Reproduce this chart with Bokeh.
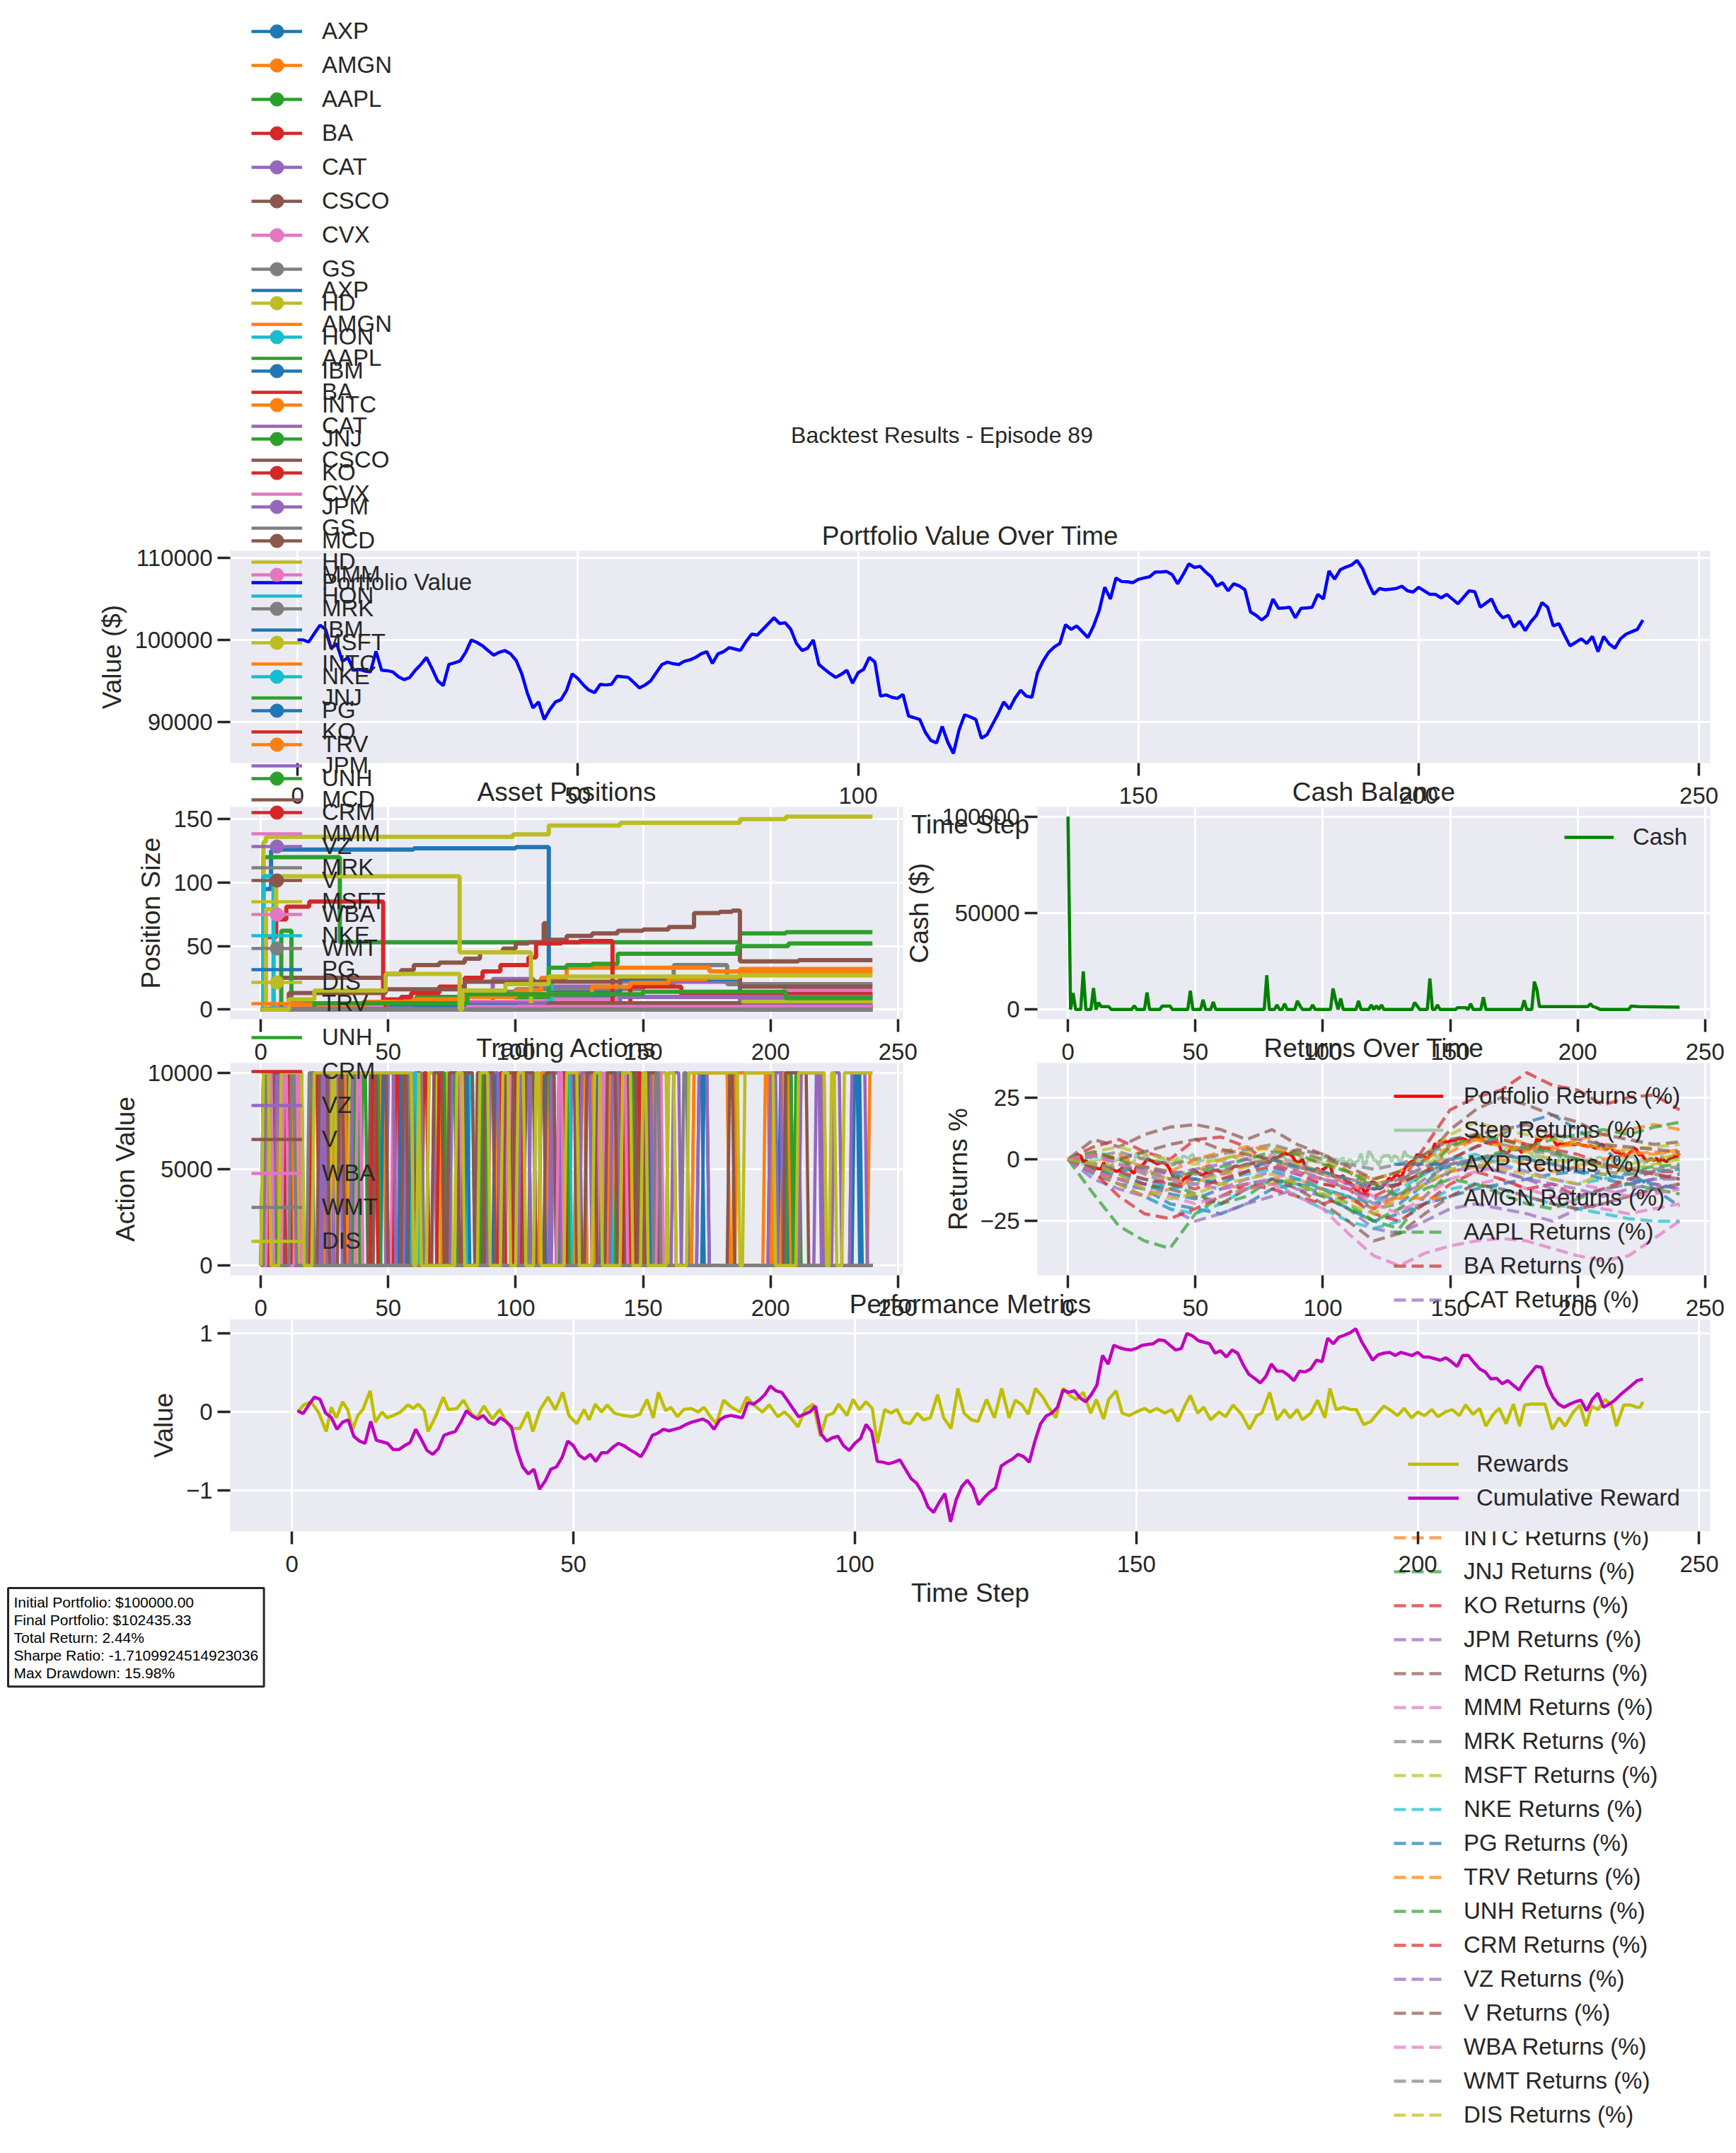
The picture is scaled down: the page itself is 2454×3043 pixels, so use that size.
from bokeh.embed import file_html
from bokeh.models import BasicTickFormatter, Column, GridBox, Label, Legend, LegendItem
from bokeh.palettes import Category10
from bokeh.plotting import figure
from bokeh.resources import INLINE

FONT = "Liberation Sans"
INK = "#262626"

# ---------------------------------------------------------------- data
tickers = ["AXP", "AMGN", "AAPL", "BA", "CAT", "CSCO", "CVX", "GS", "HD", "HON",
           "IBM", "INTC", "JNJ", "KO", "JPM", "MCD", "MMM", "MRK", "MSFT", "NKE",
           "PG", "TRV", "UNH", "CRM", "VZ", "V", "WBA", "WMT", "DIS"]

step_ticks = [0, 50, 100, 150, 200, 250]

portfolio_values = [
    100000, 100000, 99750, 100800, 101800, 101300, 98970, 99540, 97400, 97830,
    96300, 96400, 96200, 96100, 98600, 96300, 96250, 96100, 95500, 95150,
    95400, 96300, 97000, 97860, 96500, 95000, 94430, 97000, 97200, 97430,
    98500, 100000, 99700, 99290, 98700, 98140, 98500, 98700, 98300, 97500,
    95860, 93500, 91700, 92430, 90290, 91500, 92430, 92700, 93860, 95860,
    95300, 94500, 93860, 93570, 94570, 94500, 94570, 95570, 95500, 95430,
    94800, 94140, 94500, 95000, 96000, 97000, 97290, 97100, 97000, 97400,
    97570, 97860, 98300, 98570, 97140, 98300, 98570, 99060, 98900, 98710,
    99800, 100710, 100600, 101290, 102000, 102710, 102000, 102100, 101290, 99570,
    98710, 99000, 100000, 97000, 96430, 95900, 95430, 95800, 96290, 94710,
    96000, 96430, 97860, 97290, 93140, 93290, 93000, 92860, 93340, 90710,
    90500, 90290, 88710, 87710, 87430, 89430, 87500, 86140, 89000, 90860,
    90600, 90290, 88000, 88430, 89710, 91000, 92430, 91570, 92900, 93860,
    93140, 93000, 96000, 97430, 98500, 99140, 99570, 101860, 101290, 101710,
    101000, 100290, 101710, 103570, 106430, 105000, 107570, 107140, 107100, 107000,
    107400, 107570, 107710, 108290, 108300, 108370, 108000, 106860, 108000, 109290,
    108860, 109000, 108300, 107710, 106570, 107000, 106000, 106860, 106600, 106140,
    103430, 103000, 102430, 103000, 105000, 103860, 103900, 104000, 102710, 103860,
    103900, 104000, 105570, 105000, 108430, 107430, 108570, 108900, 109140, 109710,
    108700, 107000, 105570, 106290, 106140, 106200, 106290, 106570, 106000, 105860,
    106430, 106000, 105570, 105570, 105140, 105570, 105000, 104430, 105200, 106000,
    105900, 104000, 104500, 105000, 103500, 102710, 103000, 101570, 102290, 101140,
    102200, 103000, 104570, 104000, 101710, 102000, 100600, 99290, 99700, 100140,
    99570, 100430, 98570, 100430, 99500, 99000, 100140, 100710, 101000, 101290,
    102435.33]

cash_steps = [0, 1, 2, 3, 5, 6, 7, 9, 10, 11, 12, 13, 16, 17, 25, 26, 27, 30, 31, 32,
              36, 37, 40, 41, 47, 48, 49, 52, 53, 54, 56, 57, 58, 77, 78, 79, 81, 82, 83, 84,
              85, 86, 89, 90, 91, 92, 95, 96, 97, 103, 104, 105, 106, 107, 108, 113, 114, 115, 118, 119,
              120, 121, 122, 123, 124, 135, 136, 137, 138, 141, 142, 143, 144, 145, 146, 152, 153, 156, 157, 158,
              159, 162, 163, 164, 178, 179, 180, 182, 183, 184, 185, 204, 205, 206, 207, 209, 220, 221, 224, 240]
cash_values = [100000, 0, 8500, 0, 0, 19750, 0, 0, 11150, 0, 3600, 1500, 1500, 0, 0, 2000, 0, 0, 8850, 0,
               0, 1800, 1800, 0, 0, 9700, 0, 0, 5100, 0, 0, 3900, 0, 0, 17800, 0, 0, 2400, 0, 0,
               3000, 0, 0, 4500, 2000, 0, 0, 2400, 0, 0, 10900, 5000, 0, 5700, 0, 0, 4500, 0, 0, 2400,
               0, 2000, 0, 2400, 0, 0, 3600, 2000, 0, 0, 16100, 0, 0, 2400, 0, 0, 1000, 1000, 0, 3000,
               0, 0, 6400, 0, 0, 4800, 0, 0, 14500, 10300, 1500, 1500, 3000, 1500, 1200, 0, 0, 1800, 1500, 1200]

# asset positions: (step, shares) at each change of holding
axp_pos = [(0, 0), (1, 95), (4, 125), (6, 126), (60, 127), (100, 128), (113, 10), (240, 10)]
amgn_pos = [(0, 0), (31, 3), (60, 5), (113, 6), (121, 3), (240, 3)]
aapl_pos = [(0, 0), (1, 120), (31, 53), (188, 60), (206, 61), (240, 61)]
ba_pos = [(0, 0), (1, 57), (6, 71), (10, 81), (19, 85), (48, 0), (240, 0)]
cat_pos = [(0, 0), (51, 6), (91, 24), (107, 18), (141, 22), (188, 7), (240, 7)]
csco_pos = [(0, 0), (5, 25), (49, 28), (55, 31), (60, 35), (70, 37), (80, 40), (86, 45), (95, 48),
            (100, 52), (105, 53), (111, 68), (112, 55), (120, 58), (130, 60), (140, 62), (150, 63),
            (160, 65), (170, 76), (180, 77), (185, 78), (188, 38), (211, 39), (240, 39)]
cvx_pos = [(0, 0), (4, 3), (61, 6), (100, 8), (140, 10), (175, 12), (205, 15), (240, 15)]
gs_pos = [(0, 0), (56, 8), (70, 10), (80, 14), (100, 16), (150, 20), (162, 35), (183, 20), (240, 20)]
hd_pos = [(0, 0), (1, 132), (2, 136), (99, 138), (113, 145), (141, 147), (188, 150), (206, 152), (240, 152)]
hon_pos = [(0, 0), (1, 105), (5, 0), (113, 25), (114, 0), (240, 0)]
ibm_pos = [(0, 0), (51, 4), (81, 10), (113, 13), (141, 24), (188, 12), (240, 12)]
intc_pos = [(0, 0), (41, 5), (60, 8), (80, 10), (100, 15), (110, 25), (120, 33), (176, 30), (188, 32), (240, 32)]
jnj_pos = [(0, 0), (8, 62), (12, 5), (61, 10), (113, 33), (120, 35), (130, 36), (140, 44), (187, 50),
           (207, 52), (240, 52)]
ko_pos = [(0, 0), (49, 8), (55, 10), (59, 13), (70, 18), (80, 25), (87, 30), (94, 35), (105, 41), (108, 52),
          (118, 53), (125, 54), (138, 3), (145, 18), (165, 12), (240, 12)]
jpm_pos = [(0, 0), (61, 5), (141, 10), (240, 10)]
mcd_pos = [(0, 0), (11, 13), (49, 16), (80, 22), (141, 25), (188, 18), (240, 18)]
mmm_pos = [(0, 0), (151, 4), (240, 4)]
mrk_pos = [(0, 0), (240, 0)]
msft_pos = [(0, 0), (2, 79), (6, 105), (78, 45), (106, 0), (151, 4), (189, 6), (240, 6)]
nke_pos = [(0, 0), (101, 2), (240, 2)]
pg_pos = [(0, 0), (61, 3), (240, 3)]
trv_pos = [(0, 0), (13, 4), (40, 6), (60, 8), (80, 10), (100, 12), (130, 18), (145, 21), (160, 24), (175, 25),
           (187, 26), (188, 29), (240, 29)]
unh_pos = [(0, 0), (21, 5), (81, 12), (150, 14), (206, 9), (240, 9)]
crm_pos = [(0, 0), (101, 3), (240, 3)]
vz_pos = [(0, 0), (101, 3), (240, 3)]
v_pos = [(0, 0), (113, 5), (188, 0), (240, 0)]
wba_pos = [(0, 0), (81, 2), (240, 2)]
wmt_pos = [(0, 0), (240, 0)]
dis_pos = [(0, 0), (11, 8), (21, 15), (49, 28), (78, 0), (79, 15), (96, 20), (113, 26), (188, 27), (240, 27)]

# trading actions: steps at which the action flips between 0 and 10000
axp_act = [2, 4, 33, 35, 57, 59, 79, 81, 104, 106, 131, 133, 152, 154, 172, 174, 204, 207, 233, 235]
amgn_act = [3, 6, 26, 29, 47, 49, 90, 93, 128, 131, 145, 149, 198, 201]
aapl_act = [5, 7, 40, 42, 75, 77, 113, 116, 150, 152, 210, 212]
ba_act = [1, 3, 20, 23, 64, 66, 101, 103, 141, 143]
cat_act = [4, 7, 30, 32, 70, 72, 122, 125, 160, 163, 218, 221]
csco_act = [6, 9, 43, 46, 85, 88, 119, 121, 147, 149]
cvx_act = [2, 5, 52, 54, 97, 99, 135, 137]
gs_act = [8, 10, 62, 64, 108, 110, 166, 168]
hd_act = [3, 5, 35, 38, 73, 75, 126, 128, 157, 160]
hon_act = [1, 3, 14, 16, 82, 84, 139, 141]
ibm_act = [9, 11, 48, 50, 92, 94, 144, 146, 206, 208]
intc_act = [5, 8, 31, 34, 68, 71, 110, 113, 136, 139, 152, 155, 170, 184, 187, 201]
jnj_act = [7, 9, 45, 47, 87, 89, 131, 134, 207, 209]
ko_act = [11, 13, 53, 55, 94, 96, 148, 150]
jpm_act = [12, 14, 25, 28, 66, 69, 115, 118, 162, 165, 200, 203]
mcd_act = [4, 6, 36, 39, 61, 63, 99, 102, 124, 126, 151, 153]
mmm_act = [10, 12, 77, 79, 133, 135]
mrk_act = [15, 17, 58, 60, 106, 108]
msft_act = [13, 15, 28, 30, 66, 70, 146, 148]
nke_act = [2, 4, 7, 9, 60, 62, 120, 122]
pg_act = [1, 2, 55, 57, 80, 82, 110, 112, 150, 153, 174, 176, 206, 209, 232, 236]
trv_act = [3, 7, 13, 16, 50, 53, 96, 100, 110, 113, 124, 128, 137, 140, 152, 156, 170, 184, 186, 200,
           205, 208, 212, 222, 239]
unh_act = [4, 6, 37, 39, 70, 73, 118, 121, 140, 144, 146, 148, 206, 209]
crm_act = [2, 3, 10, 12, 44, 46, 70, 72, 100, 102, 117, 120, 143, 145]
vz_act = [6, 8, 24, 26, 36, 40, 50, 53, 57, 60, 75, 78, 90, 94, 102, 106, 114, 118, 126, 130, 138, 141,
          150, 154, 172, 176, 200, 205, 212, 220, 225, 228, 232, 238]
v_act = [5, 9, 23, 27, 31, 33, 45, 50, 56, 58, 68, 72, 74, 78, 80, 84, 88, 92, 96, 100, 104, 108, 112,
         116, 120, 124, 128, 132, 136, 140, 144, 148, 152, 156, 184, 186, 206, 215]
wba_act = [3, 5, 9, 11, 14, 16, 38, 40, 117, 119, 142, 144, 156, 158]
wmt_act = [2, 4, 12, 14, 19, 21, 155, 157]
dis_act = [1, 4, 8, 17, 21, 60, 62, 63, 77, 80, 86, 90, 95, 98, 101, 104, 108, 110, 120, 125, 131, 134,
           142, 146, 150, 152, 160, 163, 168, 188, 190, 202, 211, 222, 224, 226, 229]

# per-asset returns (%), read every 10 steps
return_steps = [0, 10, 20, 30, 40, 50, 60, 70, 80, 90, 100, 110, 120, 130, 140, 150, 160, 170, 180, 190,
                200, 210, 220, 230, 240]
axp_ret = [0, -6, -10, -12, -18, -20, -22, -18, -12, -10, -12, -15, -20, -18, -10, 0, 5, 10, 15, 18, 12, 5, -5, -12, -19]
amgn_ret = [0, -2, 2, -4, -8, -5, 0, 2, 0, -3, -6, -10, -12, -10, -5, 3, 8, 10, 6, 4, 8, 10, 12, 14, 12]
aapl_ret = [0, -14, -27, -33, -36, -22, -15, -12, -10, -8, -12, -18, -25, -28, -15, -5, 0, 3, 5, 8, 10, 12, 10, 13, 15]
ba_ret = [0, 5, 8, 3, 0, 8, 9, 5, -2, -5, -8, -12, -20, -10, 5, 20, 25, 28, 35, 30, 28, 22, 25, 26, 20]
cat_ret = [0, -8, -12, -15, -20, -25, -22, -18, -15, -12, -15, -20, -28, -30, -25, -20, -18, -20, -22, -25, -20, -18, -15, -12, -10]
csco_ret = [0, 8, 5, 10, 13, 14, 12, 8, 12, 6, 2, -5, -12, -10, 0, 12, 20, 25, 22, 18, 15, 10, 8, 6, 7]
cvx_ret = [0, -3, -8, -10, -12, -8, -6, -5, 2, -2, -5, -10, -15, -20, -18, -15, -10, -8, -12, -15, -18, -20, -22, -20, -18]
gs_ret = [0, -4, -2, -6, -10, -8, -5, -2, 0, -4, -8, -12, -18, -15, -8, -2, 0, 2, 5, 3, 0, -3, -5, -4, -3]
hd_ret = [0, 3, 5, 2, 0, -2, 0, 3, 5, 3, 0, -5, -8, -5, 2, 10, 15, 12, 10, 8, 6, 5, 4, 5, 6]
hon_ret = [0, -5, -10, -15, -20, -22, -18, -12, -8, -15, -20, -25, -28, -25, -18, -12, -10, -12, -15, -18, -20, -22, -24, -25, -25]
ibm_ret = [0, -4, -6, -10, -14, -16, -12, -10, -8, -10, -14, -20, -25, -22, -18, -15, -12, -10, -8, -6, -5, -8, -10, -8, -6]
intc_ret = [0, -5, -10, -15, -12, -8, -10, -12, -10, -8, -12, -16, -20, -15, -10, -5, -3, 0, -2, -5, -3, 0, 2, 3, 2]
jnj_ret = [0, -4, -8, -12, -10, -14, -18, -15, -8, -10, -15, -20, -25, -20, -12, -8, -10, -14, -18, -20, -16, -12, -10, -12, -14]
ko_ret = [0, -5, -15, -22, -24, -20, -15, -10, -12, -15, -18, -15, -22, -25, -18, -10, -5, -8, -12, -10, -15, -12, -8, -5, -5]
jpm_ret = [0, -3, -6, -10, -8, -10, -12, -8, -5, -8, -10, -12, -16, -14, -10, -5, -3, -5, -8, -12, -15, -12, -10, -8, -8]
mcd_ret = [0, -5, -8, -10, -12, -15, -18, -12, -8, -12, -18, -25, -33, -30, -22, -15, -10, -12, -15, -18, -20, -18, -15, -12, -10]
mmm_ret = [0, -5, -8, -12, -15, -18, -15, -12, -10, -15, -20, -30, -39, -43, -38, -35, -33, -32, -33, -36, -39, -41, -39, -32, -25]
mrk_ret = [0, 1, 3, 0, -2, 0, 2, 4, 6, 3, 0, -2, -4, -2, 2, 6, 8, 6, 4, 2, 0, -2, -4, -6, -8]
msft_ret = [0, -3, -2, -5, -8, -10, -6, -3, 0, -2, -5, -8, -10, -8, -3, 5, 8, 5, 3, 0, -2, -3, -2, 0, 2]
nke_ret = [0, -3, -6, -8, -12, -10, -8, -6, -4, -8, -12, -15, -18, -12, -6, 0, 2, -2, -5, -8, -10, -8, -6, -5, -4]
pg_ret = [0, -2, -5, -3, -6, -8, -10, -5, 0, -3, -5, -8, -12, -10, -5, -3, 0, 2, 0, -2, -5, -6, -8, -10, -12]
trv_ret = [0, 2, 0, -3, -5, 0, 3, 5, 4, 2, -2, -5, -8, -5, 0, 5, 8, 6, 4, 5, 6, 4, 3, 2, 4]
unh_ret = [0, 3, 0, -5, -8, -5, -3, 0, 3, 2, -2, -5, -10, -15, -5, 5, 10, 8, 5, 3, 0, -2, -4, -3, -2]
crm_ret = [0, -3, -5, -8, -10, -12, -8, -5, -3, -6, -10, -12, -15, -10, -5, 0, 5, 8, 6, 4, 2, -2, -4, -6, -8]
vz_ret = [0, 2, -2, -4, -6, -4, -2, 0, -3, -6, -8, -10, -12, -8, -3, 0, -2, -5, -8, -10, -12, -15, -12, -10, -12]
v_ret = [0, 2, 0, 3, 6, 8, 4, 2, 0, 4, 2, -3, -8, -5, 2, 8, 10, 12, 14, 10, 8, 6, 5, 4, 3]
wba_ret = [0, 2, -2, -5, -8, -10, -12, -10, -8, -5, -8, -12, -18, -22, -15, -8, -5, -3, -5, -8, -10, -12, -15, -14, -12]
wmt_ret = [0, -2, -4, -3, -5, -6, -4, -2, -1, -3, -6, -8, -10, -8, -5, -2, 0, 2, 0, -2, -4, -5, -6, -5, -4]
dis_ret = [0, -2, -6, -12, -16, -14, -10, -8, -6, -10, -14, -18, -22, -16, -10, -4, -2, -4, -6, -8, -10, -6, -4, -2, 0]

reward_steps = [
    1.0, 2.1, 3.4, 4.8, 6.1, 7.0, 7.9, 9.0, 9.9, 10.8, 11.7, 12.6, 13.9, 14.8, 16.0, 16.9, 18.0, 19.3, 20.6, 21.6,
    22.4, 23.5, 24.2, 25.6, 26.9, 27.8, 29.3, 30.5, 31.8, 32.9, 34.1, 35.6, 36.9, 37.9, 39.0, 40.5, 41.9, 42.8, 44.1, 45.5,
    46.8, 48.1, 49.2, 50.6, 51.9, 52.8, 53.9, 55.0, 56.0, 57.3, 58.9, 60.4, 61.8, 63.1, 64.2, 65.1, 66.4, 67.3, 68.5, 69.6,
    70.9, 72.2, 73.2, 74.5, 75.4, 76.7, 78.1, 79.6, 80.8, 82.3, 83.6, 84.8, 86.3, 87.5, 88.6, 89.9, 91.2, 92.6, 93.9, 95.0,
    96.2, 97.1, 98.6, 99.7, 100.8, 102.0, 103.1, 104.0, 105.3, 106.4, 107.5, 108.6, 109.8, 111.1, 112.2, 113.4, 114.7,
    115.8, 117.1, 118.3, 119.4, 120.7, 121.9, 123.4, 124.8, 126.1, 127.4, 128.5, 129.7, 130.8, 132.1, 133.4, 134.3,
    135.7, 137.0, 138.2, 139.3, 140.6, 141.9, 142.9, 144.2, 145.1, 146.4, 147.5, 148.7, 150.0, 151.5, 152.4, 153.6,
    155.1, 156.3, 157.4, 158.7, 159.6, 160.9, 162.0, 163.2, 164.7, 165.9, 167.2, 168.7, 170.1, 171.4, 172.3, 173.7,
    175.0, 176.3, 177.3, 178.6, 179.5, 181.0, 182.2, 183.5, 184.4, 185.5, 186.8, 188.2, 189.1, 190.4, 191.7, 192.7,
    194.0, 195.3, 196.4, 197.6, 198.9, 200.0, 201.2, 202.5, 203.6, 204.9, 206.1, 207.4, 208.5, 209.8, 211.0, 212.1,
    213.4, 214.5, 215.7, 217.0, 218.1, 219.0, 220.3, 221.5, 222.6, 223.9, 225.1, 226.2, 227.5, 228.8, 229.9, 230.9,
    232.0, 233.3, 234.4, 235.3, 236.6, 237.8, 238.9, 239.5, 240.0]
reward_values = [
    0.0, 0.09, 0.13, -0.015, -0.25, 0.06, -0.075, 0.13, 0.03, -0.22, -0.045, 0.03, 0.27, -0.13, 0.0, -0.075, -0.045,
    0.0, 0.09, 0.045, 0.10, 0.015, -0.25, -0.045, 0.19, 0.03, 0.045, 0.15, -0.015, -0.075, 0.075, -0.09, 0.03, -0.10,
    -0.21, -0.21, 0.0, -0.25, 0.03, 0.19, 0.03, 0.25, -0.045, -0.15, 0.03, -0.10, 0.10, 0.0, 0.09, -0.015, -0.045,
    -0.06, -0.03, 0.16, -0.075, 0.25, 0.015, 0.06, -0.06, 0.03, 0.045, 0.0, 0.06, -0.075, -0.15, 0.15, 0.06, 0.0,
    0.19, 0.075, 0.0, 0.09, -0.06, 0.0, -0.075, -0.19, 0.03, 0.10, -0.31, -0.045, -0.015, 0.10, -0.045, 0.16, 0.03,
    0.13, 0.045, -0.40, 0.03, -0.015, 0.03, -0.13, -0.15, -0.015, -0.10, -0.075, 0.22, -0.075, -0.21, 0.30, -0.015,
    -0.10, -0.12, 0.16, -0.075, 0.30, -0.075, 0.15, 0.09, -0.03, 0.30, 0.19, 0.075, -0.075, 0.30, 0.21, 0.16, 0.25,
    -0.015, 0.16, -0.09, 0.16, 0.27, -0.015, -0.045, 0.0, 0.045, 0.0, 0.045, -0.015, 0.03, -0.12, 0.09, 0.21, -0.015,
    0.06, -0.10, 0.0, -0.06, 0.09, -0.03, -0.22, -0.045, -0.015, 0.25, -0.10, 0.03, -0.075, 0.03, -0.10, -0.015,
    0.15, -0.075, 0.30, 0.03, 0.06, 0.03, 0.03, -0.16, -0.12, -0.03, 0.075, 0.015, -0.045, 0.045, -0.075, 0.0,
    -0.045, 0.03, -0.06, 0.0, 0.03, -0.045, 0.09, -0.03, 0.045, -0.18, -0.03, 0.045, -0.15, 0.10, -0.18, 0.09, 0.10,
    0.10, 0.10, -0.22, -0.075, -0.18, -0.015, 0.09, -0.18, 0.075, 0.03, 0.16, 0.09, -0.18, 0.09, 0.09, 0.06, 0.06, 0.13]

cumulative_reward = [
    0.015, -0.02, 0.09, 0.19, 0.16, -0.015, -0.07, -0.22, -0.13, -0.10,
    -0.31, -0.37, -0.40, -0.12, -0.36, -0.38, -0.40, -0.48, -0.48, -0.43,
    -0.39, -0.22, -0.35, -0.49, -0.54, -0.47, -0.30, -0.27, -0.25, -0.13,
    0.015, -0.05, -0.09, -0.045, -0.13, -0.16, -0.075, -0.12, -0.19, -0.49,
    -0.70, -0.79, -0.73, -0.985, -0.88, -0.73, -0.70, -0.58, -0.37, -0.43,
    -0.55, -0.60, -0.54, -0.63, -0.52, -0.52, -0.45, -0.40, -0.43, -0.48,
    -0.52, -0.57, -0.45, -0.30, -0.27, -0.22, -0.24, -0.22, -0.20, -0.16,
    -0.13, -0.11, -0.09, -0.13, -0.22, -0.10, -0.06, -0.045, -0.06, -0.075,
    0.12, 0.10, 0.15, 0.22, 0.33, 0.27, 0.25, 0.15, 0.045, -0.06,
    -0.03, 0.0, 0.075, -0.28, -0.37, -0.33, -0.31, -0.43, -0.49, -0.40,
    -0.34, -0.16, -0.25, -0.63, -0.64, -0.66, -0.64, -0.61, -0.73, -0.85,
    -0.91, -1.03, -1.21, -1.28, -1.15, -1.04, -1.40, -1.12, -0.95, -0.87,
    -0.97, -1.18, -1.09, -1.02, -0.97, -0.69, -0.64, -0.60, -0.54, -0.57,
    -0.64, -0.37, -0.15, -0.05, -0.015, 0.06, 0.28, 0.25, 0.27, 0.18,
    0.13, 0.22, 0.34, 0.72, 0.61, 0.85, 0.82, 0.80, 0.79, 0.81,
    0.85, 0.86, 0.87, 0.92, 0.91, 0.85, 0.79, 0.81, 1.0, 0.97,
    0.91, 0.89, 0.87, 0.75, 0.78, 0.70, 0.79, 0.75, 0.60, 0.48,
    0.43, 0.37, 0.45, 0.61, 0.52, 0.52, 0.47, 0.40, 0.52, 0.51,
    0.55, 0.66, 0.64, 0.94, 0.87, 0.955, 0.98, 1.01, 1.06, 0.90,
    0.78, 0.66, 0.73, 0.75, 0.76, 0.72, 0.76, 0.74, 0.72, 0.76,
    0.70, 0.70, 0.68, 0.66, 0.69, 0.64, 0.58, 0.72, 0.72, 0.63,
    0.55, 0.51, 0.42, 0.43, 0.36, 0.40, 0.34, 0.28, 0.40, 0.49,
    0.58, 0.57, 0.34, 0.19, 0.10, 0.06, 0.10, 0.13, 0.15, 0.015,
    0.16, 0.24, 0.06, 0.10, 0.15, 0.22, 0.28, 0.34, 0.40, 0.42]

initial_value = 100000.00
final_value = 102435.33
total_return = 2.44
sharpe_text = "-1.7109924514923036"
max_drawdown = 15.98

position_points = [axp_pos, amgn_pos, aapl_pos, ba_pos, cat_pos, csco_pos, cvx_pos, gs_pos, hd_pos, hon_pos,
                   ibm_pos, intc_pos, jnj_pos, ko_pos, jpm_pos, mcd_pos, mmm_pos, mrk_pos, msft_pos, nke_pos,
                   pg_pos, trv_pos, unh_pos, crm_pos, vz_pos, v_pos, wba_pos, wmt_pos, dis_pos]
action_flips = [axp_act, amgn_act, aapl_act, ba_act, cat_act, csco_act, cvx_act, gs_act, hd_act, hon_act,
                ibm_act, intc_act, jnj_act, ko_act, jpm_act, mcd_act, mmm_act, mrk_act, msft_act, nke_act,
                pg_act, trv_act, unh_act, crm_act, vz_act, v_act, wba_act, wmt_act, dis_act]
asset_returns = [axp_ret, amgn_ret, aapl_ret, ba_ret, cat_ret, csco_ret, cvx_ret, gs_ret, hd_ret, hon_ret,
                 ibm_ret, intc_ret, jnj_ret, ko_ret, jpm_ret, mcd_ret, mmm_ret, mrk_ret, msft_ret, nke_ret,
                 pg_ret, trv_ret, unh_ret, crm_ret, vz_ret, v_ret, wba_ret, wmt_ret, dis_ret]

# ---------------------------------------------------------------- layout (page pixels)
W, H = 2438, 3027
ROW_TOPS = [778, 1140, 1502, 1864]
ROW_H = 300
FULL = (325, 2092)
LEFT = (325, 951)
RIGHT = (1466, 951)
PITCH = 48
NAN = [float("nan")]

colors = [Category10[10][i % 10] for i in range(len(tickers))]


def make_panel(title, col, row, y_ticks, y_label, x_label=None, y_overrides=None):
    left, frame_w = col
    top = ROW_TOPS[row]
    p = figure(frame_width=frame_w, frame_height=ROW_H,
               min_border_left=left, min_border_right=W - left - frame_w,
               min_border_top=top, min_border_bottom=H - top - ROW_H,
               title=title, tools="", toolbar_location=None, output_backend="svg")
    p.border_fill_color = None
    p.background_fill_color = "#eaeaf2"
    p.outline_line_color = None
    p.title.align = "center"
    p.title.text_font = FONT
    p.title.text_font_size = "37px"
    p.title.text_font_style = "normal"
    p.title.text_color = INK
    p.title.standoff = 2
    p.grid.grid_line_color = "white"
    p.grid.grid_line_width = 3
    p.xaxis.ticker = step_ticks
    p.yaxis.ticker = y_ticks
    p.yaxis.formatter = BasicTickFormatter(use_scientific=False)
    if y_overrides:
        p.yaxis.major_label_overrides = y_overrides
    for ax in p.axis:
        ax.axis_line_color = None
        ax.major_tick_line_color = INK
        ax.major_tick_line_width = 3.5
        ax.major_tick_out = 18
        ax.major_tick_in = 0
        ax.minor_tick_line_color = None
        ax.major_label_text_font = FONT
        ax.major_label_text_font_size = "33px"
        ax.major_label_text_color = INK
        ax.axis_label_text_font = FONT
        ax.axis_label_text_font_size = "37px"
        ax.axis_label_text_font_style = "normal"
        ax.axis_label_text_color = INK
    p.xaxis.major_label_standoff = 16
    p.xaxis.axis_label_standoff = 6
    p.yaxis.major_label_standoff = 7
    p.yaxis.axis_label_standoff = 8
    p.yaxis.axis_label = y_label
    if x_label:
        p.xaxis.axis_label = x_label
    return p


def make_legend(items, location, glyph_w, standoff):
    return Legend(items=items, location=location,
                  padding=0, margin=0, spacing=0, label_height=PITCH, glyph_height=PITCH,
                  glyph_width=glyph_w, label_standoff=standoff,
                  background_fill_alpha=0, border_line_color=None,
                  label_text_font=FONT, label_text_font_size="33px", label_text_color=INK)


def panel_legend(p, items, col, row, left_x, first_y, glyph_w, standoff):
    # legend inside its own frame (location counted from the frame's bottom-left)
    frame_bottom = ROW_TOPS[row] + ROW_H
    top = first_y - PITCH / 2
    p.add_layout(make_legend(items, (left_x - col[0], frame_bottom - top - len(items) * PITCH), glyph_w, standoff))


def flip_points(flips, last_step):
    xs, ys, level = [0], [0], 0
    for s in flips:
        if s - 1 > xs[-1]:
            xs.append(s - 1)
            ys.append(level)
        level = 10000 - level
        xs.append(s)
        ys.append(level)
    if xs[-1] < last_step:
        xs.append(last_step)
        ys.append(level)
    return xs, ys


steps = list(range(len(portfolio_values)))

# page-wide layer for the legends and texts that spill outside the panel frames
overlay = figure(frame_width=W, frame_height=H, min_border=0, title=None,
                 x_axis_location=None, y_axis_location=None,
                 tools="", toolbar_location=None, output_backend="svg")
overlay.border_fill_color = None
overlay.background_fill_color = None
overlay.outline_line_color = None
overlay.grid.visible = False


def key_line(color, width, **kw):
    # legend key only: a single empty point, nothing is drawn on the page
    return overlay.line(NAN, NAN, line_color=color, line_width=width, **kw)


def overlay_legend(items, left_x, first_y, glyph_w, standoff):
    top = first_y - PITCH / 2
    overlay.add_layout(make_legend(items, (left_x, H - top - len(items) * PITCH), glyph_w, standoff))


# 1. portfolio value
p1 = make_panel("Portfolio Value Over Time", FULL, 0, [90000, 100000, 110000], "Value ($)", "Time Step")
r = p1.line(steps, portfolio_values, line_color="blue", line_width=4.5)
panel_legend(p1, [LegendItem(label="Portfolio Value", renderers=[r])], FULL, 0, 355, 823, 72, 28)

# 2. asset positions
p2 = make_panel("Asset Positions", LEFT, 1, [0, 50, 100, 150], "Position Size")
items = []
for t, pts, c in zip(tickers, position_points, colors):
    p2.step([a for a, b in pts], [b for a, b in pts], mode="after", line_color=c, line_width=6)
    key = [key_line(c, 4.5), overlay.scatter(NAN, NAN, marker="circle", size=7, color=c)]
    items.append(LegendItem(label=t, renderers=key))
overlay_legend(items, 355, 44, 72, 28)

# 3. cash balance
p3 = make_panel("Cash Balance", RIGHT, 1, [0, 50000, 100000], "Cash ($)")
r = p3.line(cash_steps, cash_values, line_color="green", line_width=4.5)
panel_legend(p3, [LegendItem(label="Cash", renderers=[r])], RIGHT, 1, 2211, 1183, 70, 27)

# 4. trading actions
p4 = make_panel("Trading Actions", LEFT, 2, [0, 5000, 10000], "Action Value")
items = []
for t, flips, c in zip(tickers, action_flips, colors):
    xs, ys = flip_points(flips, steps[-1])
    p4.line(xs, ys, line_color=c, line_width=4.5)
    items.append(LegendItem(label=t, renderers=[key_line(c, 4.5)]))
overlay_legend(items, 355, 410, 72, 28)

# 5. returns
p5 = make_panel("Returns Over Time", RIGHT, 2, [-25, 0, 25], "Returns %", y_overrides={-25: "\u221225"})
port_ret = [(v / portfolio_values[0] - 1) * 100 for v in portfolio_values]
step_ret = [0] + [(b / a - 1) * 100 for a, b in zip(portfolio_values[:-1], portfolio_values[1:])]
p5.line(steps, port_ret, line_color="red", line_width=4.5)
p5.line(steps, step_ret, line_color="green", line_width=4.5, line_alpha=0.3)
items = [LegendItem(label="Portfolio Returns (%)", renderers=[key_line("red", 4.5)]),
         LegendItem(label="Step Returns (%)", renderers=[key_line("green", 4.5, line_alpha=0.3)])]
for t, vals, c in zip(tickers, asset_returns, colors):
    p5.line(return_steps, vals, line_color=c, line_width=4.5, line_alpha=0.7, line_dash="17 8")
    items.append(LegendItem(label=f"{t} Returns (%)",
                            renderers=[key_line(c, 4.5, line_alpha=0.7, line_dash="17 8")]))
overlay_legend(items, 1970, 1549, 70, 29)

# 6. performance metrics
p6 = make_panel("Performance Metrics", FULL, 3, [-1, 0, 1], "Value", "Time Step", y_overrides={-1: "\u22121"})
r1 = p6.line(reward_steps, reward_values, line_color="#bfbf00", line_width=4.5)
r2 = p6.line(list(range(1, len(cumulative_reward) + 1)), cumulative_reward, line_color="#bf00bf", line_width=4.5)
panel_legend(p6, [LegendItem(label="Rewards", renderers=[r1]),
                  LegendItem(label="Cumulative Reward", renderers=[r2])], FULL, 3, 1990, 2069, 72, 25)

# figure title and the summary box
overlay.add_layout(Label(x=1331, y=H - 614, x_units="screen", y_units="screen",
                         text="Backtest Results - Episode 89", text_align="center", text_baseline="middle",
                         text_font=FONT, text_font_size="32px", text_color=INK))
summary = (f"Initial Portfolio: ${initial_value:.2f}\n"
           f"Final Portfolio: ${final_value:.2f}\n"
           f"Total Return: {total_return:.2f}%\n"
           f"Sharpe Ratio: {sharpe_text}\n"
           f"Max Drawdown: {max_drawdown:.2f}%")
overlay.add_layout(Label(x=11, y=H - 2244, x_units="screen", y_units="screen",
                         text=summary, text_align="left", text_baseline="top",
                         text_font=FONT, text_font_size="21px", text_color="black", text_line_height=1.09,
                         background_fill_color="white", border_line_color=INK, border_line_width=3,
                         padding=8))

# every layer has a full-page canvas; stacked in one grid cell they overlap like the original figure
layers = [Column(children=[p], width=W, height=H) for p in (p1, p2, p3, p4, p5, overlay, p6)]
page = GridBox(children=[(layer, 0, 0) for layer in layers])
open("out.html", "w").write(file_html(page, INLINE))
